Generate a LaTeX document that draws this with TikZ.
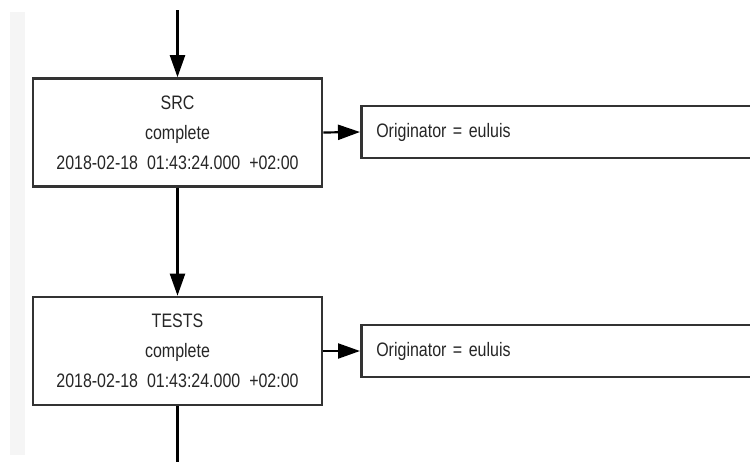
\documentclass[tikz,border=0pt]{standalone}
\usepackage{fontspec}
\setmainfont{Liberation Sans}[FakeStretch=0.82]
\usetikzlibrary{arrows.meta}
\begin{document}
\begin{tikzpicture}[x=1pt,y=-1pt,
  stagebox/.style={draw=black!80, line width=2.6pt, fill=white,
    minimum width=289pt, minimum height=108pt, inner sep=0pt,
    align=center, text=black!85, font=\fontsize{19.5}{30}\selectfont},
  attrbox/.style={draw=black!80, line width=2.6pt, fill=white, anchor=west,
    text width=400pt, align=left, inner xsep=15pt, minimum height=52pt,
    text=black!85, font=\fontsize{19.5}{22}\selectfont},
  flow/.style={line width=2.2pt, draw=black, -{Triangle[length=22pt,width=15pt]}},
  plain/.style={line width=2.2pt, draw=black}]
  % page area and faint margin band
  \clip (0,0) rectangle (750,461);
  \fill[white] (0,0) rectangle (750,461);
  \fill[black!4] (10,12) rectangle (25,455);

  % pipeline stages
  \node[stagebox] (src) at (177.5,132.5)
    {SRC\\complete\\2018-02-18\ \ 01:43:24.000\ \ +02:00};
  \node[stagebox] (tests) at (177.5,351)
    {TESTS\\complete\\2018-02-18\ \ 01:43:24.000\ \ +02:00};

  % attributes
  \node[attrbox] (orig1) at (360,132) {Originator = euluis};
  \node[attrbox] (orig2) at (360,351) {Originator = euluis};

  % connectors
  \coordinate (in) at (177.5,10);
  \coordinate (out) at (177.5,470);
  \draw[flow] (in) -- (src.north);
  \draw[flow] (src.south) -- (tests.north);
  \draw[plain] (tests.south) -- (out);
  \draw[flow] (src.east) -- (orig1.west);
  \draw[flow] (tests.east) -- (orig2.west);
\end{tikzpicture}
\end{document}
